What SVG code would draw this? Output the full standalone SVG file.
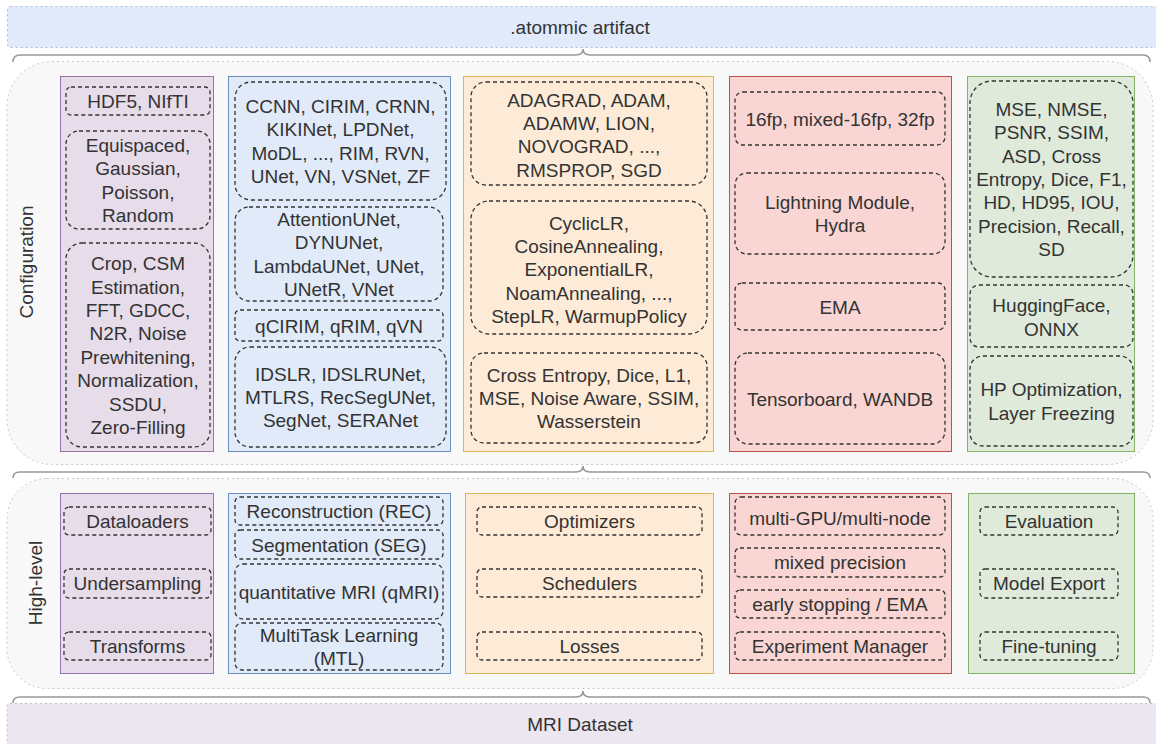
<svg xmlns="http://www.w3.org/2000/svg" width="1156" height="744" viewBox="0 0 1156 744">
<style>
text{font-family:"Liberation Sans",Arial,sans-serif;font-size:19px;fill:#333;text-anchor:middle}
.cont{fill:#f8f8f8;stroke:#c8c8c8;stroke-width:1;stroke-dasharray:2 3}
.brace{fill:none;stroke:#999;stroke-width:1.6}
.cp{fill:#e6dcea;stroke:#9673a6}
.cb{fill:#e0eaf8;stroke:#6c8ebf}
.co{fill:#fdebd7;stroke:#d6b656}
.cr{fill:#f9d6d3;stroke:#b85450}
.cg{fill:#dfeadb;stroke:#82b366}
.d{fill:none;stroke:#333;stroke-width:1.3;stroke-dasharray:4 3}
</style>
<rect width="1156" height="744" fill="#ffffff"/>
<g id="artifact">
<rect x="7.5" y="6.5" width="1150" height="41" rx="3" fill="#e0eafb" stroke="#a9bcd6" stroke-dasharray="2 3"/>
<text x="580" y="34">.atommic artifact</text>
</g>
<g id="braces">
<path class="brace" d="M13,62 Q13,55 20,55 L576,55 Q583,55 583,49 Q583,55 590,55 L1143,55 Q1150,55 1150,62"/>
<path class="brace" d="M13,478 Q13,472 20,472 L576,472 Q583,472 583,466 Q583,472 590,472 L1143,472 Q1150,472 1150,478"/>
<path class="brace" d="M13,703 Q13,697 20,697 L576,697 Q583,697 583,691 Q583,697 590,697 L1143,697 Q1150,697 1150,703"/>
</g>
<g id="configuration">
<rect class="cont" x="7" y="61.5" width="1146" height="403" rx="45"/>
<text transform="translate(33,262) rotate(-90)">Configuration</text>
<g id="cfg-data">
<rect class="cp" x="60.5" y="76.5" width="153" height="375"/>
<rect class="d" x="66" y="87" width="144" height="28" rx="5"/>
<text x="138" y="108">HDF5, NIfTI</text>
<rect class="d" x="66" y="131" width="144" height="98" rx="13"/>
<text x="138" y="152">Equispaced,</text>
<text x="138" y="175.4">Gaussian,</text>
<text x="138" y="198.8">Poisson,</text>
<text x="138" y="222.2">Random</text>
<rect class="d" x="66" y="243" width="144" height="204" rx="16"/>
<text x="138" y="270.1">Crop, CSM</text>
<text x="138" y="293.5">Estimation,</text>
<text x="138" y="316.9">FFT, GDCC,</text>
<text x="138" y="340.3">N2R, Noise</text>
<text x="138" y="363.7">Prewhitening,</text>
<text x="138" y="387.1">Normalization,</text>
<text x="138" y="410.5">SSDU,</text>
<text x="138" y="433.9">Zero-Filling</text>
</g>
<g id="cfg-models">
<rect class="cb" x="228.5" y="76.5" width="222" height="375"/>
<rect class="d" x="235" y="82" width="211" height="118" rx="16"/>
<text x="340.5" y="112.9">CCNN, CIRIM, CRNN,</text>
<text x="340.5" y="136.3">KIKINet, LPDNet,</text>
<text x="340.5" y="159.7">MoDL, ..., RIM, RVN,</text>
<text x="340.5" y="183.1">UNet, VN, VSNet, ZF</text>
<rect class="d" x="235" y="207" width="208" height="94" rx="14"/>
<text x="339" y="225.9">AttentionUNet,</text>
<text x="339" y="249.3">DYNUNet,</text>
<text x="339" y="272.7">LambdaUNet, UNet,</text>
<text x="339" y="296.1">UNetR, VNet</text>
<rect class="d" x="235" y="310" width="208" height="31" rx="5"/>
<text x="339" y="332.5">qCIRIM, qRIM, qVN</text>
<rect class="d" x="235" y="347" width="211" height="100" rx="15"/>
<text x="340.5" y="380.6">IDSLR, IDSLRUNet,</text>
<text x="340.5" y="404">MTLRS, RecSegUNet,</text>
<text x="340.5" y="427.4">SegNet, SERANet</text>
</g>
<g id="cfg-optim">
<rect class="co" x="463.5" y="76.5" width="250" height="375"/>
<rect class="d" x="471" y="82" width="236" height="103" rx="15"/>
<text x="589" y="106.5">ADAGRAD, ADAM,</text>
<text x="589" y="129.9">ADAMW, LION,</text>
<text x="589" y="153.3">NOVOGRAD, ...,</text>
<text x="589" y="176.7">RMSPROP, SGD</text>
<rect class="d" x="471" y="201" width="236" height="133" rx="18"/>
<text x="589" y="229.5">CyclicLR,</text>
<text x="589" y="252.9">CosineAnnealing,</text>
<text x="589" y="276.3">ExponentialLR,</text>
<text x="589" y="299.7">NoamAnnealing, ...,</text>
<text x="589" y="323.1">StepLR, WarmupPolicy</text>
<rect class="d" x="471" y="353" width="236" height="90" rx="13"/>
<text x="589" y="381.6">Cross Entropy, Dice, L1,</text>
<text x="589" y="405">MSE, Noise Aware, SSIM,</text>
<text x="589" y="428.4">Wasserstein</text>
</g>
<g id="cfg-train">
<rect class="cr" x="729.5" y="76.5" width="222" height="375"/>
<rect class="d" x="735" y="92" width="210" height="53" rx="8"/>
<text x="840" y="125.5">16fp, mixed-16fp, 32fp</text>
<rect class="d" x="735" y="173" width="210" height="81" rx="12"/>
<text x="840" y="208.8">Lightning Module,</text>
<text x="840" y="232.2">Hydra</text>
<rect class="d" x="735" y="283" width="210" height="47" rx="7"/>
<text x="840" y="313.5">EMA</text>
<rect class="d" x="735" y="353" width="210" height="91" rx="13"/>
<text x="840" y="405.5">Tensorboard, WANDB</text>
</g>
<g id="cfg-eval">
<rect class="cg" x="967.5" y="76.5" width="167" height="375"/>
<rect class="d" x="970" y="81" width="163" height="196" rx="22"/>
<text x="1051.5" y="115.8">MSE, NMSE,</text>
<text x="1051.5" y="139.2">PSNR, SSIM,</text>
<text x="1051.5" y="162.6">ASD, Cross</text>
<text x="1051.5" y="186">Entropy, Dice, F1,</text>
<text x="1051.5" y="209.4">HD, HD95, IOU,</text>
<text x="1051.5" y="232.8">Precision, Recall,</text>
<text x="1051.5" y="256.2">SD</text>
<rect class="d" x="970" y="285" width="163" height="62" rx="9"/>
<text x="1051.5" y="312.3">HuggingFace,</text>
<text x="1051.5" y="335.7">ONNX</text>
<rect class="d" x="970" y="356" width="163" height="90" rx="13"/>
<text x="1051.5" y="396.3">HP Optimization,</text>
<text x="1051.5" y="419.7">Layer Freezing</text>
</g>
</g>
<g id="high-level">
<rect class="cont" x="7" y="478.5" width="1146" height="210" rx="40"/>
<text transform="translate(42,583) rotate(-90)">High-level</text>
<g id="hl-data">
<rect class="cp" x="60.5" y="493.5" width="153" height="180"/>
<rect class="d" x="64" y="507" width="147" height="28" rx="5"/>
<text x="137.5" y="528">Dataloaders</text>
<rect class="d" x="64" y="569" width="147" height="29" rx="5"/>
<text x="137.5" y="590">Undersampling</text>
<rect class="d" x="64" y="632" width="147" height="28" rx="5"/>
<text x="137.5" y="653">Transforms</text>
</g>
<g id="hl-tasks">
<rect class="cb" x="228.5" y="493.5" width="222" height="180"/>
<rect class="d" x="235" y="497" width="208" height="28" rx="5"/>
<text x="339" y="518">Reconstruction (REC)</text>
<rect class="d" x="235" y="530" width="208" height="29" rx="5"/>
<text x="339" y="551.5">Segmentation (SEG)</text>
<rect class="d" x="235" y="564" width="208" height="55" rx="8"/>
<text x="339" y="598.5">quantitative MRI (qMRI)</text>
<rect class="d" x="235" y="623" width="208" height="47" rx="7"/>
<text x="339" y="641.8">MultiTask Learning</text>
<text x="339" y="665.2">(MTL)</text>
</g>
<g id="hl-optim">
<rect class="co" x="465.5" y="493.5" width="248" height="180"/>
<rect class="d" x="477" y="507" width="225" height="28" rx="5"/>
<text x="589.5" y="528">Optimizers</text>
<rect class="d" x="477" y="569" width="225" height="28" rx="5"/>
<text x="589.5" y="590">Schedulers</text>
<rect class="d" x="477" y="632" width="225" height="28" rx="5"/>
<text x="589.5" y="653">Losses</text>
</g>
<g id="hl-train">
<rect class="cr" x="729.5" y="493.5" width="222" height="180"/>
<rect class="d" x="735" y="497" width="210" height="38" rx="6"/>
<text x="840" y="525">multi-GPU/multi-node</text>
<rect class="d" x="735" y="548" width="210" height="29" rx="5"/>
<text x="840" y="569">mixed precision</text>
<rect class="d" x="735" y="590" width="210" height="28" rx="5"/>
<text x="840" y="611">early stopping / EMA</text>
<rect class="d" x="735" y="632" width="210" height="28" rx="5"/>
<text x="840" y="653">Experiment Manager</text>
</g>
<g id="hl-eval">
<rect class="cg" x="968.5" y="493.5" width="166" height="180"/>
<rect class="d" x="980" y="507" width="138" height="28" rx="5"/>
<text x="1049" y="528">Evaluation</text>
<rect class="d" x="980" y="569" width="138" height="29" rx="5"/>
<text x="1049" y="590">Model Export</text>
<rect class="d" x="980" y="632" width="138" height="28" rx="5"/>
<text x="1049" y="653">Fine-tuning</text>
</g>
</g>
<g id="mri-dataset">
<rect x="7" y="703.5" width="1150" height="45" rx="3" fill="#ece6f0" stroke="#c4bccb" stroke-dasharray="2 3"/>
<text x="580" y="731">MRI Dataset</text>
</g>
</svg>
